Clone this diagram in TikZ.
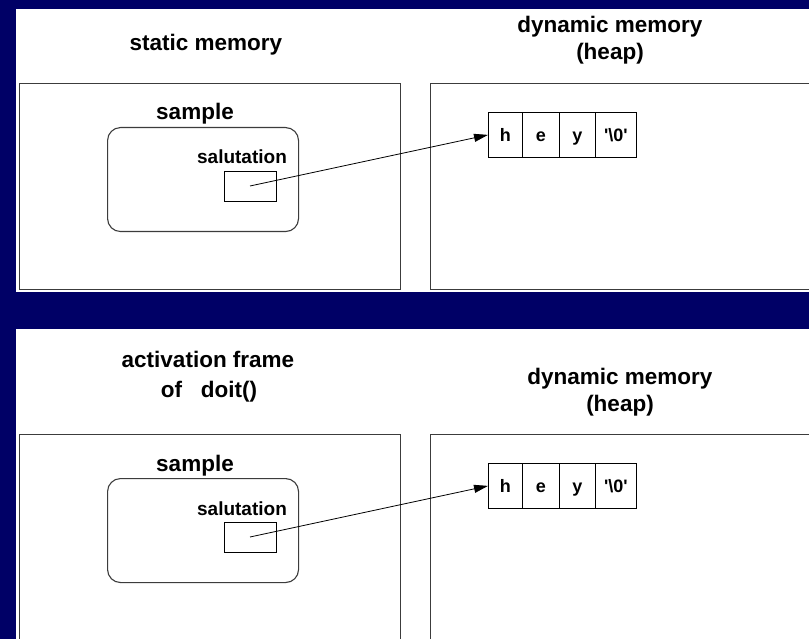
\documentclass[tikz,border=0pt]{standalone}
\usepackage{fontspec}
\setmainfont{Liberation Sans}
\usetikzlibrary{arrows.meta}
\definecolor{navy}{RGB}{0,0,102}
\definecolor{framegray}{RGB}{60,60,60}
\tikzset{
  frame/.style={draw=framegray, line width=1.4pt},
  title/.style={font=\fontsize{22.5}{27}\selectfont\bfseries, inner sep=0pt, anchor=base},
  small/.style={font=\fontsize{19}{23}\selectfont\bfseries, inner sep=0pt, anchor=base},
  objbox/.style={draw=framegray, line width=1.1pt, rounded corners=13pt, minimum width=191pt, minimum height=104pt, anchor=north west, inner sep=0pt},
  ptrbox/.style={draw=black, line width=0.8pt, minimum width=52pt, minimum height=30pt, anchor=north west, inner sep=0pt},
  cell/.style={draw=black, line width=0.8pt, minimum height=45pt, anchor=north west, inner sep=0pt,
    font=\fontsize{18}{22}\selectfont\bfseries, text height=15pt, text depth=2pt},
  ptr/.style={draw=black, line width=0.8pt, -{Triangle[length=14pt,width=8pt]}}
}
\begin{document}
\begin{tikzpicture}[x=1pt,y=-1pt]
\useasboundingbox (0,0) rectangle (809,639);
\clip (0,0) rectangle (809,639);
\fill[navy] (0,0) rectangle (809,639);
\fill[white] (16,9) rectangle (809,292);
\fill[white] (16,329) rectangle (809,639);
% left titles
\node[title] (stat) at (206,51) {static memory};
\node[title] (act1) at (208,367) {activation frame};
\node[title] (act2) at (209,397) {of~~~doit()};
\foreach \p/\dy/\hx in {a/0/610,b/351/620}{
  \begin{scope}[shift={(0,\dy)}]
    \node[title] (dyn\p) at (\hx,33) {dynamic memory};
    \node[title] (heap\p) at (\hx,60) {(heap)};
    % outer frames
    \node[frame, minimum width=381pt, minimum height=206pt, anchor=north west, inner sep=0pt] (left\p) at (19,83) {};
    \node[frame, minimum width=420pt, minimum height=206pt, anchor=north west, inner sep=0pt] (right\p) at (430,83) {};
    % object
    \node[title] (sample\p) at (195,120) {sample};
    \node[objbox] (obj\p) at (107,127) {};
    \node[small] (sal\p) at (242,164) {salutation};
    \node[ptrbox] (pb\p) at (224,171) {};
    \coordinate (start\p) at (250,186);
    % array
    \node[cell, minimum width=34pt] (c1\p) at (488,112) {h};
    \node[cell, minimum width=37pt] (c2\p) at (522,112) {e};
    \node[cell, minimum width=36pt] (c3\p) at (559,112) {y};
    \node[cell, minimum width=41pt] (c4\p) at (595,112) {\textquotesingle\textbackslash0\textquotesingle};
    \draw[ptr] (start\p) -- (c1\p.west);
  \end{scope}
}
\end{tikzpicture}
\end{document}
